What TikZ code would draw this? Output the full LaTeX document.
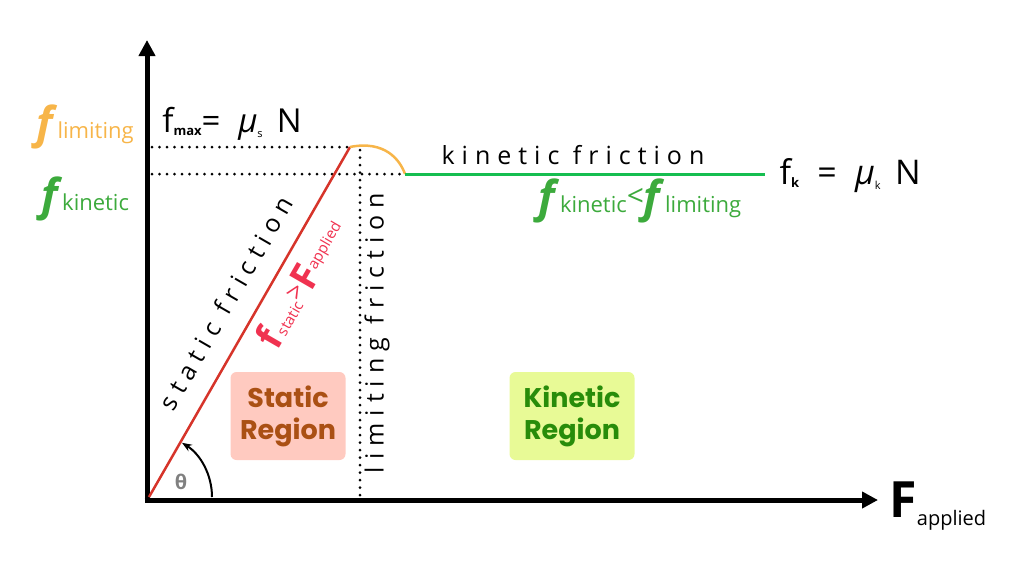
\documentclass[tikz,border=0pt]{standalone}
\usepackage{fontspec}
\setmainfont{Open Sans}
\newfontfamily\spaced[LetterSpace=28]{Open Sans}
\newfontfamily\boldf{Poppins}
\usetikzlibrary{arrows.meta}
\definecolor{myred}{RGB}{214,52,42}
\definecolor{myorange}{RGB}{247,181,73}
\definecolor{mygreen}{RGB}{22,190,80}
\definecolor{labgreen}{RGB}{60,170,60}
\definecolor{mypink}{RGB}{240,50,80}
\definecolor{boxpink}{RGB}{255,202,192}
\definecolor{boxbrown}{RGB}{170,80,20}
\definecolor{boxlime}{RGB}{232,250,150}
\definecolor{boxgreen}{RGB}{40,140,10}
\newcommand{\bigf}[1]{\textbf{\textit{\fontsize{44}{46}\selectfont #1}}}
\begin{document}
\begin{tikzpicture}[x=1pt,y=-1pt,
  axis/.style={line width=5pt,-{Triangle[length=16pt,width=16pt]}},
  dots/.style={line width=3pt,dash pattern=on 0pt off 7.5pt,line cap=round},
  region/.style={rounded corners=6pt,minimum width=115pt,minimum height=88pt,align=center,font=\boldf\bfseries\fontsize{27}{32}\selectfont}]
\useasboundingbox (0,0) rectangle (1024,574);
\coordinate (O) at (147,500);
\coordinate (Ytop) at (147,40);
\coordinate (Xend) at (878,500);
\coordinate (P) at (350,147);
\coordinate (Q) at (405,174);
\coordinate (G) at (765,174);
\coordinate (L0) at (152,147);
\coordinate (K0) at (152,174);
\coordinate (V0) at (360,150);
\coordinate (V1) at (360,497);
\draw[dots] (L0) -- (P);
\draw[dots] (K0) -- (Q);
\draw[dots] (V0) -- (V1);
\draw[axis] (O) -- (Ytop);
\draw[axis] ([xshift=-2.5pt]O) -- (Xend);
\draw[myred,line width=2.5pt] (149,497) -- (P);
\draw[myorange,line width=2.5pt] (P) .. controls (385,140) and (400,160) .. (Q);
\draw[mygreen,line width=3pt] (Q) -- (G);
\draw[line width=2pt,-{Stealth[length=10pt]}] (212,497) arc[start angle=0,end angle=-58,radius=64];
\node[text=gray,font=\bfseries\fontsize{20}{22}\selectfont] (th) at (181,482) {θ};
\node[font=\fontsize{33}{36}\selectfont] (fmax) at (232,124) {f\raisebox{-3pt}{\bfseries\fontsize{13}{14}\selectfont max}= \;\textit{μ}\raisebox{-5pt}{\fontsize{11}{12}\selectfont s}\, N};
\node[text=myorange,font=\fontsize{22}{24}\selectfont] (flim) at (85,127) {\bigf{f}limiting};
\node[text=labgreen,font=\fontsize{22}{24}\selectfont] (fkin) at (85,199) {\bigf{f}kinetic};
\node[font=\spaced\fontsize{25}{28}\selectfont] (kf) at (573,155) {kinetic friction};
\node[font=\fontsize{34}{36}\selectfont,anchor=west] (fk) at (776,176) {f\raisebox{-3pt}{\bfseries\fontsize{13}{14}\selectfont k} \;=\; \textit{μ}\raisebox{-5pt}{\fontsize{11}{12}\selectfont k}\, N};
\node[text=labgreen,font=\fontsize{22}{24}\selectfont] (ineq) at (640,201) {\bigf{f}kinetic\raisebox{6pt}{\fontsize{30}{32}\selectfont<}\bigf{f}limiting};
\node[font=\spaced\fontsize{25}{28}\selectfont,rotate=60] (sf) at (226,303) {static friction};
\node[text=mypink,font=\fontsize{15}{16}\selectfont,rotate=60] (fs) at (300,283) {\textbf{\fontsize{38}{40}\selectfont f}static\raisebox{5pt}{\fontsize{26}{28}\selectfont >}\textbf{\fontsize{38}{40}\selectfont F}\raisebox{7pt}{applied}};
\node[font=\spaced\fontsize{25}{28}\selectfont,rotate=90] (lf) at (377,333) {limiting friction};
\node[region,fill=boxpink,text=boxbrown] (sr) at (288,416) {Static\\Region};
\node[region,fill=boxlime,text=boxgreen,minimum width=125pt] (kr) at (572,416) {Kinetic\\Region};
\node[font=\fontsize{20}{22}\selectfont,anchor=west] (fa) at (886,506) {\textbf{\fontsize{50}{52}\selectfont F}\raisebox{-8pt}{applied}};
\end{tikzpicture}
\end{document}
